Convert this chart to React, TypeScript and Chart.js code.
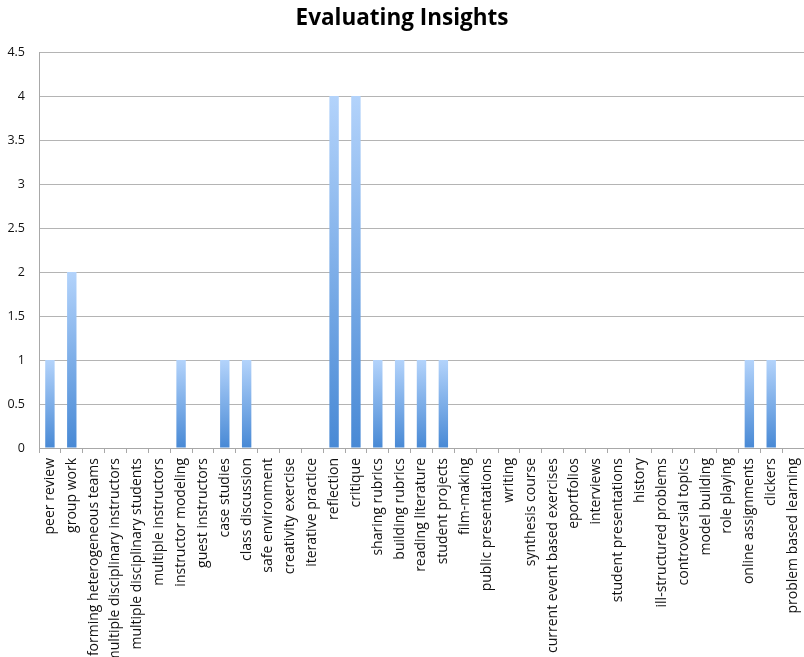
import React, { useEffect, useRef } from "react";
import { Chart, registerables } from "chart.js";

Chart.register(...registerables);

const categories: string[] = [
  "peer review",
  "group work",
  "forming heterogeneous teams",
  "multiple disciplinary instructors",
  "multiple disciplinary students",
  "multiple instructors",
  "instructor modeling",
  "guest instructors",
  "case studies",
  "class discussion",
  "safe environment",
  "creativity exercise",
  "iterative practice",
  "reflection",
  "critique",
  "sharing rubrics",
  "building rubrics",
  "reading literature",
  "student projects",
  "film-making",
  "public presentations",
  "writing",
  "synthesis course",
  "current event based exercises",
  "eportfolios",
  "interviews",
  "student presentations",
  "history",
  "ill-structured problems",
  "controversial topics",
  "model building",
  "role playing",
  "online assignments",
  "clickers",
  "problem based learning",
];

const counts: number[] = [
  1, 2, 0, 0, 0, 0, 1, 0, 1, 1, 0, 0, 0, 4, 4, 1, 1, 1, 1, 0, 0, 0, 0, 0, 0, 0,
  0, 0, 0, 0, 0, 0, 1, 1, 0,
];

const yMin = 0;
const yMax = 4.5;
const yStep = 0.5;

const FONT = "'Open Sans', 'DejaVu Sans', sans-serif";

export default function App() {
  const canvasRef = useRef<HTMLCanvasElement | null>(null);

  useEffect(() => {
    const canvas = canvasRef.current;
    if (!canvas) return;

    const chart = new Chart(canvas, {
      type: "bar",
      data: {
        labels: categories,
        datasets: [
          {
            label: "Evaluating Insights",
            data: counts,
            categoryPercentage: 1,
            barPercentage: 0.43,
            borderWidth: 0,
            backgroundColor: (ctx: any) => {
              const c = ctx.chart;
              const ys = c.scales?.y;
              if (!c.chartArea || !ys) return "#6fa4e6";
              const top = ys.getPixelForValue(ctx.raw ?? 0);
              const base = ys.getPixelForValue(0);
              if (!(base > top)) return "#5b97dd";
              // vertical shading on each bar: pale at the top, deeper blue at the base
              const g = c.ctx.createLinearGradient(0, top, 0, base);
              g.addColorStop(0, "#b3d3fb");
              g.addColorStop(1, "#4889d5");
              return g;
            },
          },
        ],
      },
      options: {
        animation: false,
        responsive: false,
        maintainAspectRatio: false,
        layout: { padding: { left: 0, right: 0, top: 0, bottom: 0 } },
        plugins: {
          legend: { display: false },
          tooltip: { enabled: false },
          title: {
            display: true,
            text: "Evaluating Insights",
            color: "#000",
            font: { family: FONT, size: 22.5, weight: "bold" },
            padding: { top: 5, bottom: 20 },
          },
        },
        scales: {
          x: {
            offset: true,
            grid: {
              display: true,
              drawOnChartArea: false,
              offset: true,
              tickLength: 5,
              color: "#a8a8a8",
            },
            border: { display: true, color: "#a8a8a8" },
            ticks: {
              autoSkip: false,
              maxRotation: 90,
              minRotation: 90,
              padding: 5,
              color: "#111",
              font: { family: FONT, size: 14 },
            },
            afterFit: (s: any) => {
              s.height = 209;
              // the plot runs right to the canvas edge
              s.paddingLeft = 0;
              s.paddingRight = 0;
            },
          },
          y: {
            min: yMin,
            max: yMax,
            ticks: {
              stepSize: yStep,
              padding: 14,
              color: "#111",
              font: { family: FONT, size: 12.5 },
              callback: (v: any) => String(Number(v)),
            },
            grid: { color: "#b4b4b4", tickLength: 0 },
            border: { display: true, color: "#a8a8a8" },
            afterFit: (s: any) => {
              s.width = 39;
            },
          },
        },
      },
    });

    return () => chart.destroy();
  }, []);

  return (
    <div
      style={{
        position: "absolute",
        left: 0,
        top: 0,
        width: 804,
        height: 657,
        overflow: "hidden",
        background: "#fff",
      }}
    >
      <canvas ref={canvasRef} width={804} height={657} style={{ display: "block" }} />
    </div>
  );
}
